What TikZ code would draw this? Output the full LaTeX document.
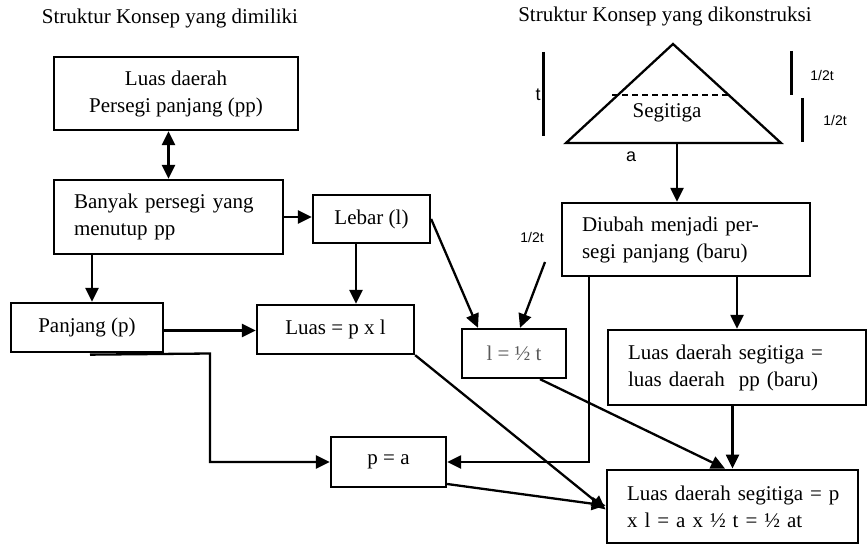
\documentclass[tikz,border=0pt]{standalone}
\usepackage{fontspec}
\setmainfont{Liberation Serif}
\newfontfamily\lblfont{Liberation Sans}
\usetikzlibrary{arrows.meta,calc}
\begin{document}
\begin{tikzpicture}[x=1pt,y=-1pt,
  every node/.style={font=\fontsize{21}{27}\selectfont},
  box/.style={draw,line width=2.3pt,rectangle,inner sep=0pt},
  lbox/.style={box,align=left,inner xsep=20pt},
  cbox/.style={box,align=center},
  tip/.style={-{Triangle[length=14pt,width=13pt]}},
  arr/.style={line width=2.3pt,tip},
  dbl/.style={line width=2.3pt,{Triangle[length=14pt,width=13pt]}-{Triangle[length=14pt,width=13pt]}},
  plain/.style={line width=2.3pt},
  bar/.style={line width=3pt},
  small/.style={font=\lblfont\fontsize{14}{16}\selectfont},
  letter/.style={font=\lblfont\fontsize{18}{20}\selectfont}]
\useasboundingbox (0,0) rectangle (867,545);

% headings
\node (hl) at (170,18) {Struktur Konsep yang dimiliki};
\node (hr) at (665,16) {Struktur Konsep yang dikonstruksi};

% left column: what is known
\node[cbox,minimum width=244pt,minimum height=73pt] (lpp) at (176,93.5)
  {Luas daerah\\Persegi panjang (pp)};
\node[lbox,minimum width=229pt,minimum height=74pt,text width=189pt] (banyak) at (168.5,217)
  {Banyak persegi yang\\menutup pp};
\node[cbox,minimum width=117pt,minimum height=48pt] (lebar) at (371.5,219) {Lebar (l)};
\node[cbox,minimum width=152pt,minimum height=49pt] (panjang) at (87,327.5) {Panjang (p)};
\node[cbox,minimum width=157pt,minimum height=49pt] (luas) at (335.5,329.5) {Luas = p x l};
\node[cbox,minimum width=115pt,minimum height=50pt] (pa) at (388.5,462) {p = a};
\node[cbox,minimum width=104pt,minimum height=49pt,text=black!65] (lhalf) at (514,353.5) {l = ½ t};

% right column: what is constructed
\coordinate (apex) at (673,44);
\coordinate (bl) at (566,143);
\coordinate (br) at (781,143);
\coordinate (tb) at (677,143);
\draw[plain,line join=miter] (apex) -- (br) -- (bl) -- cycle;
\draw[line width=1.6pt,dash pattern=on 6pt off 4pt] (612,95) -- (729,95);
\node (seg) at (667,113) {Segitiga};
\node[letter] (la) at (631,157) {a};
\draw[bar] (543,52) -- (543,136);
\node[letter,fill=white,inner sep=0.5pt] (lt) at (538,95) {t};
\draw[bar] (791,51) -- (791,95);
\draw[bar] (802,98) -- (802,142);
\node[small] (h1) at (822,75) {1/2t};
\node[small] (h2) at (835,120) {1/2t};

\node[lbox,minimum width=248pt,minimum height=73pt,text width=208pt] (diubah) at (686,239.5)
  {Diubah menjadi per-\\segi panjang (baru)};
\node[lbox,minimum width=258pt,minimum height=75pt,text width=218pt] (lseg) at (737,367.5)
  {Luas daerah segitiga =\\luas daerah\ \ pp (baru)};
\node[lbox,line width=2.8pt,minimum width=251pt,minimum height=73pt,text width=211pt] (final) at (732.5,506.5)
  {\mbox{Luas daerah segitiga = p}\\x l = a x ½ t = ½ at};
\node[small] (h3) at (532,237) {1/2t};

% connector anchor points
\coordinate (h3tail) at (545,262);
\coordinate (cpan) at ($(panjang.north)+(5,0)$);
\coordinate (cleb) at ($(lebar.south)+(-15.5,0)$);
\coordinate (cpe) at ($(panjang.east)+(0,3)$);
\coordinate (k0) at ($(panjang.south)+(3,1.5)$);
\coordinate (k1) at (210,353.5);
\coordinate (cdi) at ($(diubah.south west)+(28,0)$);

% connectors
\draw[dbl] (banyak.north |- lpp.south) -- (banyak.north);
\draw[arr] (banyak.east) -- (banyak.east -| lebar.west);
\draw[arr] (cpan |- banyak.south) -- (cpan);
\draw[arr] (cleb) -- (cleb |- luas.north);
\draw[arr] (cpe) -- (cpe -| luas.west);
\draw[arr] (k0) -- (k1) |- (pa.west);
\draw[arr] (lebar.east) -- ($(lhalf.north)+(-36,0)$);
\draw[arr] (h3tail) -- ($(lhalf.north)+(6,0)$);
\draw[arr] (luas.south east) -- ($(final.west)+(0,3)$);
\draw[arr] ($(pa.east)+(0,22)$) -- ($(final.west)+(0,-1)$);
\draw[arr] ($(lhalf.south)+(26,0)$) -- ($(final.north)+(-7.5,0)$);
\draw[arr] (final.north |- lseg.south) -- (final.north);
\draw[arr] (tb) -- (tb |- diubah.north);
\draw[arr] (lseg.north |- diubah.south) -- (lseg.north);
\draw[arr] (cdi) |- (pa.east);
\end{tikzpicture}
\end{document}
